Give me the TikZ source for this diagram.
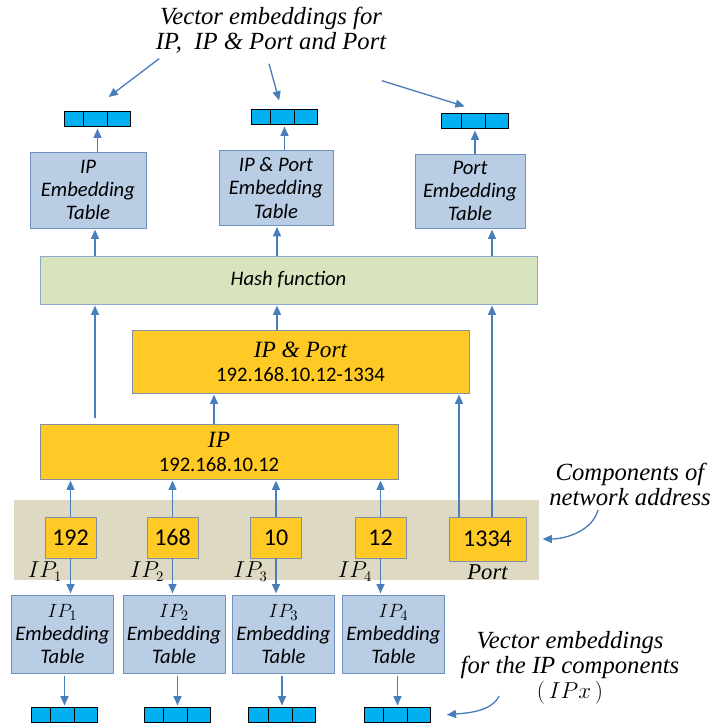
\documentclass[tikz,border=0pt]{standalone}
\usepackage{fontspec}
\setmainfont{Carlito}
\newfontfamily\capfont{Liberation Serif}
\usetikzlibrary{arrows.meta}
\usetikzlibrary{calc}

\definecolor{arrowblue}{HTML}{4A7EBB}
\definecolor{tablefill}{HTML}{B9CDE5}
\definecolor{tableline}{HTML}{7090BF}
\definecolor{hashfill}{HTML}{D7E4BD}
\definecolor{hashline}{HTML}{8EA8CF}
\definecolor{goldfill}{HTML}{FFC926}
\definecolor{goldline}{HTML}{7F8FA8}
\definecolor{veccyan}{HTML}{00B0F0}
\definecolor{bandfill}{HTML}{DDD9C3}

\tikzset{
    arr/.style={-{Triangle[length=7pt,width=6pt]}, line width=1pt, draw=arrowblue, shorten >=1pt},
    tbl/.style={draw=tableline, fill=tablefill, align=center, inner sep=0pt,
        font=\fontsize{15.5}{17.5}\selectfont\itshape},
    gold/.style={draw=goldline, fill=goldfill, align=center, inner sep=0pt,
        font=\fontsize{15.5}{18}\selectfont},
    comp/.style={gold, font=\fontsize{18}{20}\selectfont},
    vec/.style={draw=black, line width=0.8pt, fill=veccyan, inner sep=0pt,
        minimum width=50pt, minimum height=11.5pt},
    lbl/.style={font=\fontsize{16}{19}\selectfont, inner sep=1pt},
    note/.style={align=center, inner sep=1pt, font=\capfont\fontsize{18.5}{18.75}\selectfont\itshape}
}

\begin{document}
\begin{tikzpicture}[x=0.75pt, y=-0.75pt]
    \useasboundingbox (0,0) rectangle (718,728);

    % caption on top
    \node[note] (cap) at (271,30) {Vector embeddings for\\IP,\ \ IP \& Port and Port};

    % vectors and tables for IP, IP & Port, Port
    \node[vec] (vIP) at (97.5,119) {};
    \node[vec] (vIPP) at (284.5,117) {};
    \node[vec] (vPort) at (475,121) {};

    \node[tbl, minimum width=87pt, minimum height=57pt] (tIP) at (88,190) {IP\\Embedding\\Table};
    \node[tbl, minimum width=85.5pt, minimum height=56pt] (tIPP) at (276,188) {IP \& Port\\Embedding\\Table};
    \node[tbl, minimum width=82.5pt, minimum height=55.5pt] (tPort) at (470,191) {Port\\Embedding\\Table};

    \node[draw=hashline, fill=hashfill, minimum width=372.75pt, minimum height=36pt,
        font=\fontsize{15.5}{18}\selectfont\itshape] (hash) at (288.5,280) {Hash function};

    \node[gold, minimum width=252.75pt, minimum height=47.25pt] (ipport) at (300.5,361.5)
        {{\capfont\itshape\fontsize{17.5}{18}\selectfont IP \& Port}\\192.168.10.12-1334};
    \node[gold, minimum width=268.5pt, minimum height=41.25pt] (ip) at (219,451.5)
        {{\capfont\itshape\fontsize{17.5}{18}\selectfont IP}\\192.168.10.12};

    % components of the address
    \node[fill=bandfill, minimum width=393.75pt, minimum height=60pt, inner sep=0pt] (band) at (276.5,540) {};

    \foreach \n/\x/\val in {1/70.5/192, 2/172.5/168, 3/276/10, 4/380.5/12} {
        \node[comp, minimum width=38pt, minimum height=31pt] (c\n) at (\x,537.5) {\val};
        \node[lbl, anchor=north] (l\n) at ($(c\n.south west)+(0,2)$) {$IP_\n$};
    }
    \node[comp, minimum width=57.75pt, minimum height=33pt] (c5) at (487.5,539) {1334};
    \node[lbl, anchor=north, font=\capfont\fontsize{17}{19}\selectfont\itshape] (l5) at ($(c5.south)+(0,2)$) {Port};

    % tables and vectors for the components
    \foreach \n/\x/\vx in {1/62.5/64.5, 2/174/177.5, 3/283.5/282, 4/393.5/397.5} {
        \node[tbl, minimum width=76.5pt, minimum height=58.5pt] (t\n) at (\x,634) {$IP_\n$\\Embedding\\Table};
        \node[vec] (v\n) at (\vx,715) {};
        \draw[arr] (c\n.north) -- (c\n.north |- ip.south);
        \draw[arr] (c\n.south) -- (c\n.south |- t\n.north);
        \draw[arr, shorten <=2pt] (t\n.south -| v\n.north) -- (v\n.north);
    }

    % cells of the vectors
    \foreach \v in {vIP,vIPP,vPort,v1,v2,v3,v4} {
        \draw[line width=0.8pt] ($(\v.north west)!0.3!(\v.north east)$) -- ($(\v.south west)!0.3!(\v.south east)$);
        \draw[line width=0.8pt] ($(\v.north west)!0.65!(\v.north east)$) -- ($(\v.south west)!0.65!(\v.south east)$);
    }

    % columns of the long arrows
    \coordinate (colA) at (95,0);
    \coordinate (colB) at (277,0);
    \coordinate (colC) at (492,0);
    \coordinate (colD) at (459,0);
    \coordinate (colE) at (214,0);

    \draw[arr] (hash.north -| colA) -- (tIP.south -| colA);
    \draw[arr] (hash.north -| colB) -- (tIPP.south -| colB);
    \draw[arr] (hash.north -| colC) -- (tPort.south -| colC);

    \draw[arr] (tIP.north -| vIP) -- (vIP.south);
    \draw[arr] (tIPP.north -| vIPP) -- (vIPP.south);
    \draw[arr] (tPort.north -| vPort) -- (vPort.south);

    \draw[arr, shorten <=4.5pt] (ip.north -| colA) -- (hash.south -| colA);
    \draw[arr] (ipport.north -| colB) -- (hash.south -| colB);
    \draw[arr] (c5.north -| colC) -- (hash.south -| colC);
    \draw[arr] (c5.north -| colD) -- (ipport.south -| colD);
    \draw[arr] (ip.north -| colE) -- (ipport.south -| colE);

    % arrows from the caption
    \coordinate (s1) at ($(cap.south west)+(5,4)$);
    \coordinate (s2) at ($(cap.south)+(-2,9)$);
    \coordinate (s3) at ($(cap.south east)+(-6,26)$);
    \draw[arr] (s1) -- ($(vIP.north)+(10,-13)$);
    \draw[arr] (s2) -- ($(vIPP.north)+(-5,-7)$);
    \draw[arr] (s3) -- ($(vPort.north)+(-9,-6)$);

    % notes on the right
    \node[note] (compnote) at (630,484) {Components of\\network address};
    \coordinate (compS) at ($(compnote.south)+(-32,3)$);
    \draw[arr] (compS) .. controls ($(compS)+(-6,22)$) and ($(band.east)+(25,-1)$) .. ($(band.east)+(2,-1)$);

    \node[note] (vlbl) at (570,668) {Vector embeddings\\for the IP components\\$(\,IPx\,)$};
    \coordinate (vlblS) at ($(vlbl.south west)+(40,-10)$);
    \draw[arr] (vlblS) .. controls ($(vlblS)+(-8,16)$) and ($(v4.east)+(35,-2)$) .. ($(v4.east)+(14,0)$);
\end{tikzpicture}
\end{document}
